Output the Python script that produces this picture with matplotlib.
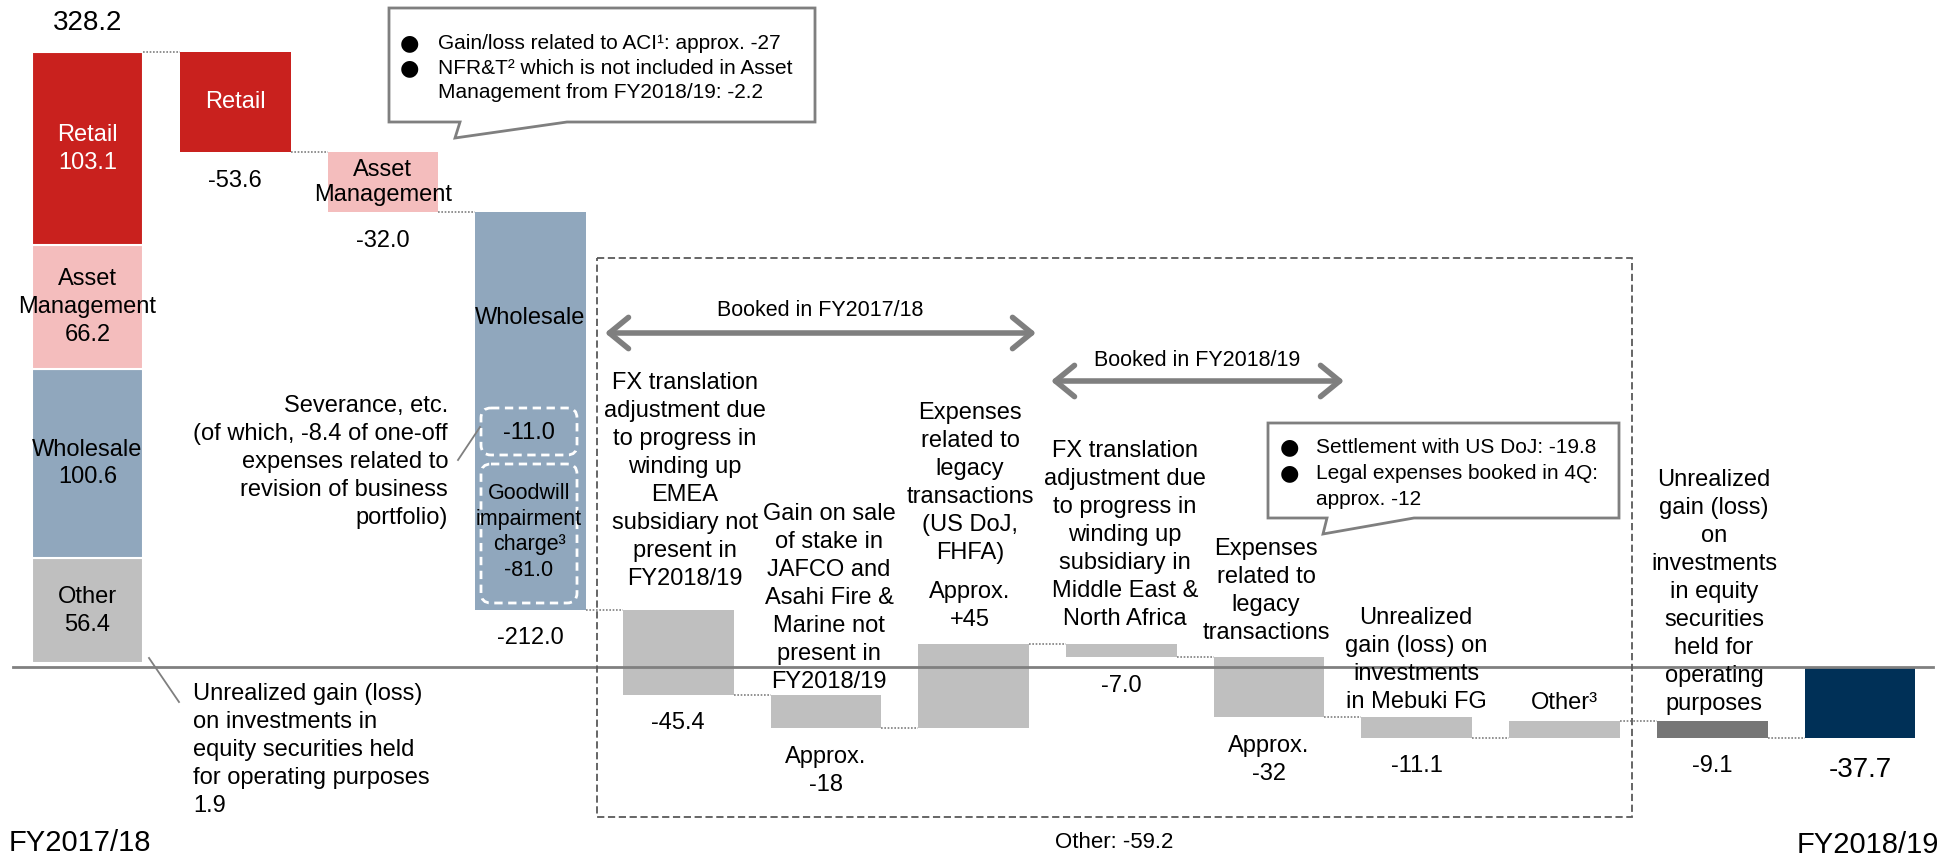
import matplotlib.pyplot as plt
import matplotlib.patches as patches
import numpy as np

plt.rcParams['font.family'] = ['Liberation Sans', 'DejaVu Sans']

# --- data ---
start_total = 328.2
stack_names = ['Unrealized', 'Other\n56.4', 'Wholesale\n100.6', 'Asset\nManagement\n66.2', 'Retail\n103.1']
stack_values = [1.9, 56.4, 100.6, 66.2, 103.1]
stack_colors = ['white', '#BFBFBF', '#90A7BD', '#F4BDBD', '#C9211E']

step_names = ['Retail', 'Asset Management', 'Wholesale', 'FX EMEA', 'JAFCO / Asahi',
              'Legacy (US DoJ, FHFA)', 'FX Middle East', 'Legacy 4Q', 'Mebuki FG',
              'Other', 'Unrealized']
step_values = [-53.6, -32.0, -212.0, -45.4, -18, 45, -7.0, -32, -11.1, 9.3, -9.1]
step_labels = ['-53.6', '-32.0', '-212.0', '-45.4', 'Approx.\n-18', '', '-7.0',
               'Approx.\n-32', '-11.1', '', '-9.1']
step_colors = ['#C9211E', '#F4BDBD', '#90A7BD'] + ['#BFBFBF'] * 7 + ['#767676']

end_total = -37.7
end_color = '#003057'
other_total = -59.2

# --- layout (pixels of the 1943x856 picture) ---
W, H = 1943, 856
x0px, dxpx = 87.5, 147.7   # centre of first bar, bar spacing
y0px, dypx = 667, 1.874    # zero line, pixels per unit
bw = 0.75
FS = 17
LS = 1.35
GRAY = '#7F7F7F'

fig = plt.figure(figsize=(W / 100, H / 100), dpi=100)
ax = fig.add_axes([0, 0, 1, 1])
ax.set_xlim(-x0px / dxpx, (W - x0px) / dxpx)
ax.set_ylim(-(H - y0px) / dypx, y0px / dypx)
ax.axis('off')

# overlay in pixel coordinates for notes
ov = fig.add_axes([0, 0, 1, 1])
ov.set_xlim(0, W)
ov.set_ylim(H, 0)
ov.axis('off')
ov.patch.set_alpha(0)

# starting stacked bar
bottom = 0
for name, v, c in zip(stack_names, stack_values, stack_colors):
    ax.bar(0, v, bottom=bottom, width=bw, color=c, edgecolor='white', linewidth=1.5)
    if name != 'Unrealized':
        ax.text(0, bottom + v / 2, name, ha='center', va='center', fontsize=FS,
                linespacing=LS, color='white' if name.startswith('Retail') else 'black')
    bottom += v
ax.annotate(f'{start_total:.1f}', (0, start_total), xytext=(0, 21),
            textcoords='offset points', ha='center', va='center', fontsize=20)

# steps
levels = start_total + np.cumsum(step_values)
prev = np.concatenate([[start_total], levels[:-1]])
for i, (p, l, c, lab) in enumerate(zip(prev, levels, step_colors, step_labels), start=1):
    ax.bar(i, l - p, bottom=p, width=bw, color=c, linewidth=0)
    if lab:
        ax.annotate(lab, (i, min(p, l)), xytext=(0, -12.5), textcoords='offset points',
                    ha='center', va='top', fontsize=FS, linespacing=LS)

n = len(step_values) + 1
ax.bar(n, end_total, width=bw, color=end_color, linewidth=0)
ax.annotate(f'{end_total:.1f}', (n, end_total), xytext=(0, -14), textcoords='offset points',
            ha='center', va='top', fontsize=20)

# connectors
all_levels = [start_total] + list(levels)
for i in range(n):
    ax.plot([i + bw / 2, i + 1 - bw / 2], [all_levels[i]] * 2, color=GRAY,
            lw=1.2, ls=(0, (1, 1)))

ax.axhline(0, xmin=13 / W, xmax=1933 / W, color='#808080', lw=2, zorder=3)

# labels inside bars
ax.text(1, (prev[0] + levels[0]) / 2, 'Retail', ha='center', va='center', fontsize=FS, color='white')
ax.text(2, (prev[1] + levels[1]) / 2, 'Asset\nManagement', ha='center', va='center',
        fontsize=FS, linespacing=1.15)
ov.text(530, 318, 'Wholesale', ha='center', va='center', fontsize=FS)

# dashed boxes inside Wholesale
for (bx, by, bwid, bh) in [(481, 408, 96, 47), (481, 464, 96, 139)]:
    ov.add_patch(patches.FancyBboxPatch((bx, by), bwid, bh, boxstyle='round,pad=0,rounding_size=10',
                                        fill=False, ec='white', lw=2, ls=(0, (3, 2))))
ov.text(529, 433, '-11.0', ha='center', va='center', fontsize=FS)
ov.text(529, 532, 'Goodwill\nimpairment\ncharge³\n-81.0', ha='center', va='center',
        fontsize=15.5, linespacing=1.3)

# notes
ov.text(448, 462, 'Severance, etc.\n(of which, -8.4 of one-off\nexpenses related to\n'
        'revision of business\nportfolio)', ha='right', va='center', multialignment='right',
        fontsize=FS, linespacing=LS)
ov.plot([458, 480], [460, 427], color=GRAY, lw=1.3)

ov.text(193, 750, 'Unrealized gain (loss)\non investments in\nequity securities held\n'
        'for operating purposes\n1.9', ha='left', va='center', fontsize=FS, linespacing=LS)
ov.plot([149, 179], [658, 702], color=GRAY, lw=1.3)

notes = [
    (685, 481, 'FX translation\nadjustment due\nto progress in\nwinding up\nEMEA\nsubsidiary not\npresent in\nFY2018/19'),
    (829, 598, 'Gain on sale\nof stake in\nJAFCO and\nAsahi Fire &\nMarine not\npresent in\nFY2018/19'),
    (970, 483, 'Expenses\nrelated to\nlegacy\ntransactions\n(US DoJ,\nFHFA)'),
    (970, 606, 'Approx.\n+45'),
    (1125, 535, 'FX translation\nadjustment due\nto progress in\nwinding up\nsubsidiary in\nMiddle East &\nNorth Africa'),
    (1266, 591, 'Expenses\nrelated to\nlegacy\ntransactions'),
    (1416, 660, 'Unrealized\ngain (loss) on\ninvestments\nin Mebuki FG'),
    (1564, 703, 'Other³'),
    (1714, 592, 'Unrealized\ngain (loss)\non\ninvestments\nin equity\nsecurities\nheld for\noperating\npurposes'),
]
for x, y, t in notes:
    ov.text(x, y, t, ha='center', va='center', fontsize=FS, linespacing=LS)

# "Other" group box and arrows
ov.add_patch(patches.Rectangle((597, 258), 1035, 559, fill=False, ec='#595959',
                               lw=1.3, ls=(0, (4, 2))))
ov.text(1114, 842, f'Other: {other_total:.1f}', ha='center', va='center', fontsize=16)

for (xa, xb, ya, txt, ty) in [(605, 1036, 333, 'Booked in FY2017/18', 311),
                              (1051, 1344, 381, 'Booked in FY2018/19', 360)]:
    ov.annotate('', xy=(xb, ya), xytext=(xa, ya),
                arrowprops=dict(arrowstyle='<->,head_length=0.55,head_width=0.45',
                                lw=4, color=GRAY, shrinkA=0, shrinkB=0, mutation_scale=25))
    ov.text((xa + xb) / 2, ty, txt, ha='center', va='center', fontsize=15.5)

# callouts
def callout(x1, y1, x2, y2, t1, t2, tip, lines, bullets):
    pts = [(x1, y1), (x2, y1), (x2, y2), (t2, y2), tip, (t1, y2), (x1, y2)]
    ov.add_patch(patches.Polygon(pts, closed=True, fc='white', ec=GRAY, lw=2, zorder=5))
    for (bx, by) in bullets:
        ov.text(bx, by, '●', ha='center', va='center', fontsize=16, zorder=6,
                family='DejaVu Sans')
    for (lx, ly, lt) in lines:
        ov.text(lx, ly, lt, ha='left', va='center', fontsize=15, zorder=6)

callout(389, 8, 815, 122, 460, 567, (455, 138),
        [(438, 43, 'Gain/loss related to ACI¹: approx. -27'),
         (438, 68, 'NFR&T² which is not included in Asset'),
         (438, 92, 'Management from FY2018/19: -2.2')],
        [(409, 43), (409, 68)])
callout(1268, 423, 1619, 518, 1327, 1414, (1323, 534),
        [(1316, 447, 'Settlement with US DoJ: -19.8'),
         (1316, 473, 'Legal expenses booked in 4Q:'),
         (1316, 499, 'approx. -12')],
        [(1289, 447), (1289, 473)])

ov.text(9, 843, 'FY2017/18', ha='left', va='center', fontsize=21)
ov.text(1939, 845, 'FY2018/19', ha='right', va='center', fontsize=21)

fig.savefig('out.png', dpi=100)
plt.close(fig)
